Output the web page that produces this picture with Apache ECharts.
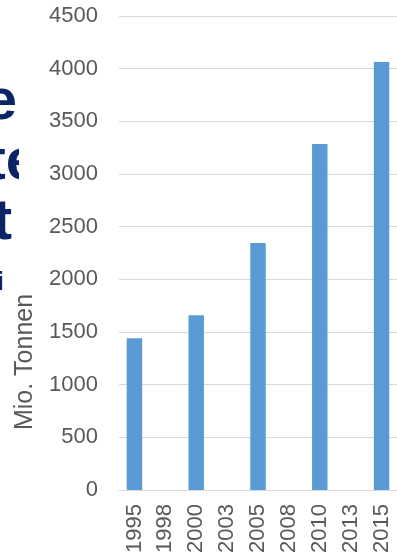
<!DOCTYPE html>
<html><head><meta charset="utf-8">
<script src="https://cdn.jsdelivr.net/npm/echarts@6/dist/echarts.min.js"></script>
<style>html,body{margin:0;padding:0;background:#fff}#c{width:397px;height:557px}</style>
</head><body><div id="c"></div>
<script>
const categories = ['1995','1998','2000','2003','2005','2008','2010','2013','2015'];
const values = [1440, null, 1660, null, 2345, null, 3285, null, 4063];
const yTicks = {min: 0, max: 4500, interval: 500};
const axisName = 'Mio. Tonnen';
const titleFragments = ['Die', 'Ente', 'Markt', 'i'];

const chart = echarts.init(document.getElementById('c'), null, {renderer: 'canvas'});
const navy = '#0b2466';
chart.setOption({
  animation: false,
  backgroundColor: '#fff',
  grid: {left: 119, right: -10, top: 16, bottom: 67, containLabel: false},
  xAxis: {
    type: 'category', data: categories,
    axisLine: {lineStyle: {color: '#d9d9d9', width: 1}},
    axisTick: {show: false},
    axisLabel: {rotate: 90, fontSize: 22, color: '#595959', fontFamily: 'Liberation Sans', margin: 14, interval: 0}
  },
  yAxis: {
    type: 'value', min: yTicks.min, max: yTicks.max, interval: yTicks.interval,
    axisLine: {show: false}, axisTick: {show: false},
    splitLine: {lineStyle: {color: '#d9d9d9', width: 1}},
    axisLabel: {fontSize: 22, color: '#595959', fontFamily: 'Liberation Sans', margin: 21, formatter: v => String(v)}
  },
  series: [{type: 'bar', data: values, barWidth: '50%', itemStyle: {color: '#5b9bd5'}}],
  graphic: [
    {type: 'text', x: 17, y: 132, z: 1, style: {text: titleFragments[0], font: 'bold 58px "Liberation Sans"', fill: navy, textAlign: 'right', textVerticalAlign: 'bottom'}},
    {type: 'text', x: 38, y: 192, z: 1, style: {text: titleFragments[1], font: 'bold 58px "Liberation Sans"', fill: navy, textAlign: 'right', textVerticalAlign: 'bottom'}},
    {type: 'rect', x: 19, y: 135, z: 5, shape: {width: 24, height: 55}, style: {fill: '#fff'}},
    {type: 'text', x: 12, y: 252, z: 1, style: {text: titleFragments[2], font: 'bold 58px "Liberation Sans"', fill: navy, textAlign: 'right', textVerticalAlign: 'bottom'}},
    {type: 'text', x: 4, y: 296, z: 1, style: {text: titleFragments[3], font: 'bold 26px "Liberation Sans"', fill: navy, textAlign: 'right', textVerticalAlign: 'bottom'}},
    {type: 'text', x: 25, y: 362, rotation: Math.PI / 2, z: 6, style: {text: axisName, font: '25px "Liberation Sans"', fill: '#595959', textAlign: 'center', textVerticalAlign: 'middle'}}
  ]
});
</script></body></html>
